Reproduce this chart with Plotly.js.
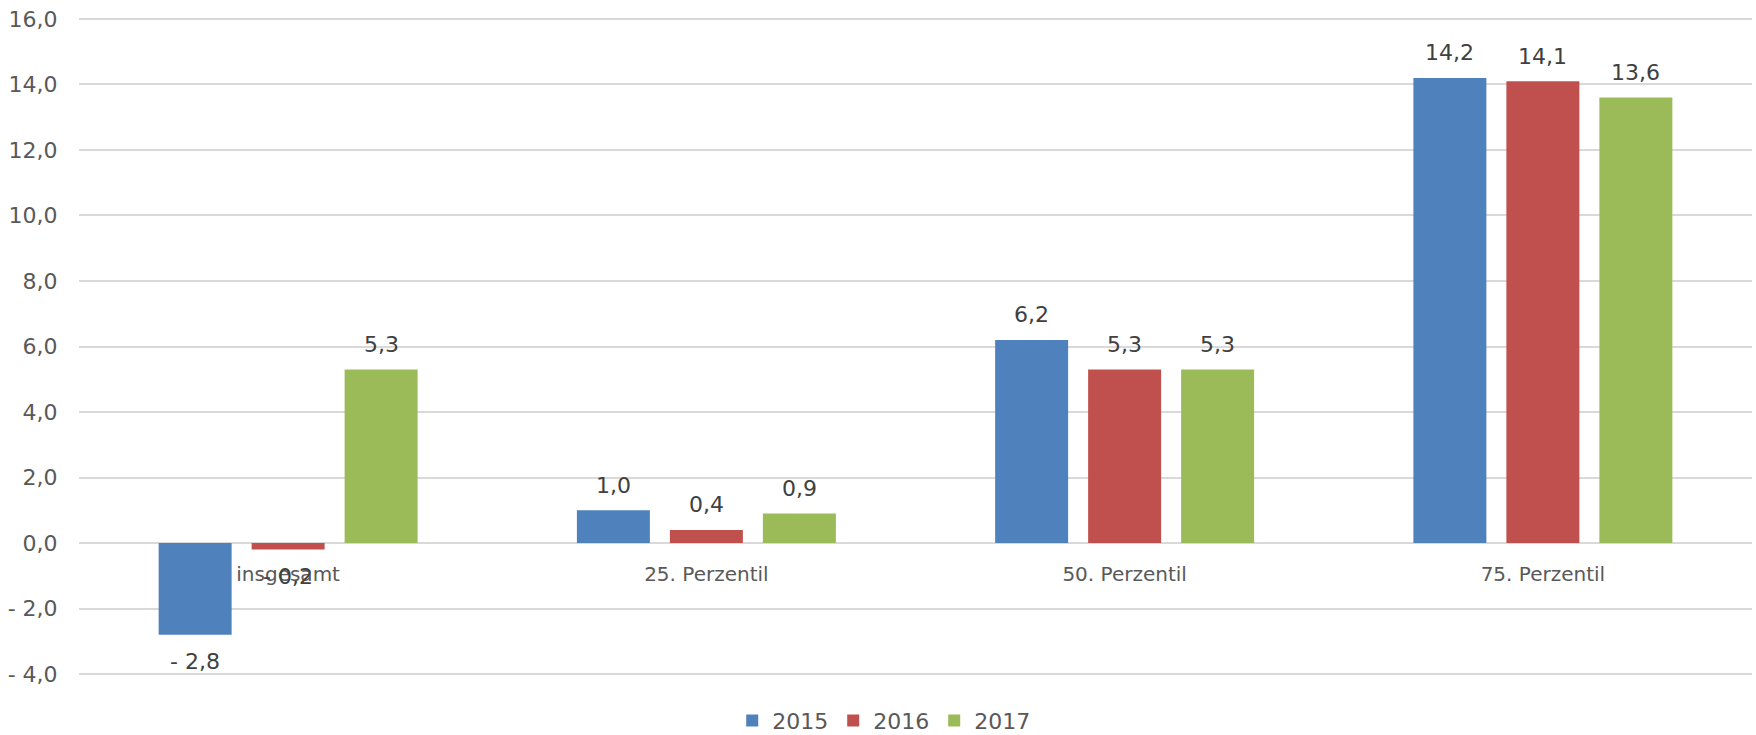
<!DOCTYPE html>
<html>
<head>
<meta charset="utf-8">
<script src="https://cdn.plot.ly/plotly-3.0.1.min.js"></script>
<style>
html,body{margin:0;padding:0;background:#fff;}
#chart{width:1756px;height:735px;}
</style>
</head>
<body>
<div id="chart"></div>
<script>
const categories = ["insgesamt", "25. Perzentil", "50. Perzentil", "75. Perzentil"];
const seriesNames = ["2015", "2016", "2017"];
const values2015 = [-2.8, 1.0, 6.2, 14.2];
const values2016 = [-0.2, 0.4, 5.3, 14.1];
const values2017 = [5.3, 0.9, 5.3, 13.6];
const yTickValues = [-4, -2, 0, 2, 4, 6, 8, 10, 12, 14, 16];
const colors = ["#4F81BD", "#C0504D", "#9BBB59"];

function fmt(v) {
  const s = Math.abs(v).toFixed(1).replace(".", ",");
  return v < 0 ? "- " + s : s;
}

const allSeries = [values2015, values2016, values2017];
const FONT = "DejaVu Sans, Liberation Sans, Arial, sans-serif";
const NUMSIZE = 22;

const traces = allSeries.map((vals, i) => ({
  type: "bar",
  name: seriesNames[i],
  x: categories,
  y: vals,
  marker: {color: colors[i], line: {width: 0}},
  hoverinfo: "skip"
}));

const annotations = [];
allSeries.forEach((vals, i) => {
  vals.forEach((v, j) => {
    annotations.push({
      x: categories[j], y: v, xref: "x", yref: "y",
      text: fmt(v), showarrow: false,
      xshift: (i - 1) * 93,
      yshift: v >= 0 ? 25 : -27,
      yanchor: "middle", xanchor: "center",
      font: {family: FONT, size: NUMSIZE, color: "#404040"}
    });
  });
});

const layout = {
  width: 1756, height: 735,
  margin: {l: 79, r: 4, t: 17, b: 59, autoexpand: false},
  paper_bgcolor: "#ffffff", plot_bgcolor: "#ffffff",
  barmode: "group",
  bargap: 0.333,
  bargroupgap: 0.215,
  showlegend: true,
  legend: {
    orientation: "h", x: 0.481, xanchor: "center", y: -0.068, yanchor: "middle",
    font: {family: FONT, size: NUMSIZE, color: "#595959"},
    itemwidth: 30, traceorder: "normal"
  },
  xaxis: {
    type: "category",
    anchor: "free", position: 0.2,
    showgrid: false, zeroline: false, showline: false,
    ticks: "outside", ticklen: 12, tickcolor: "rgba(0,0,0,0)",
    tickfont: {family: FONT, size: 20, color: "#595959"},
    fixedrange: true
  },
  yaxis: {
    range: [-4.06, 16.06],
    tickvals: yTickValues,
    ticktext: yTickValues.map(v => fmt(v)),
    showgrid: true, gridcolor: "#D9D9D9", gridwidth: 2,
    zeroline: true, zerolinecolor: "#D9D9D9", zerolinewidth: 2,
    showline: false,
    ticks: "outside", ticklen: 16, tickcolor: "rgba(0,0,0,0)",
    tickfont: {family: FONT, size: NUMSIZE, color: "#595959"},
    fixedrange: true
  },
  annotations: annotations,
  font: {family: FONT}
};

Plotly.newPlot("chart", traces, layout, {displayModeBar: false, staticPlot: true});
</script>
</body>
</html>
